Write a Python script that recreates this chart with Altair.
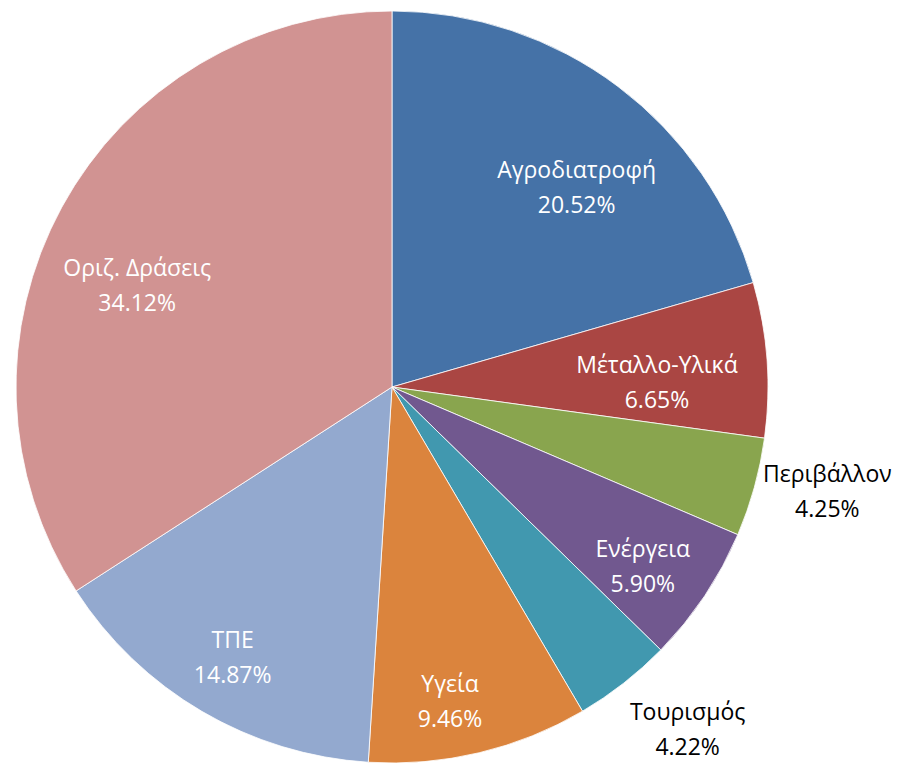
import math
import altair as alt
import pandas as pd

categories = ["Αγροδιατροφή", "Μέταλλο-Υλικά", "Περιβάλλον", "Ενέργεια",
              "Τουρισμός", "Υγεία", "ΤΠΕ", "Οριζ. Δράσεις"]
values = [20.52, 6.65, 4.25, 5.90, 4.22, 9.46, 14.87, 34.12]
colors = ["#4572A7", "#AA4643", "#89A54E", "#71588F",
          "#4198AF", "#DB843D", "#93A9CF", "#D19392"]

df = pd.DataFrame({"cat": categories, "value": values, "idx": list(range(len(categories)))})

FONT = "Open Sans"
CX, CY = 384, 379
LH = 35
base = alt.Chart(df).encode(
    theta=alt.Theta("value:Q", stack=True),
    order=alt.Order("idx:Q"),
    x=alt.value(CX),
    y=alt.value(CY),
)

pie = base.mark_arc(outerRadius=376, stroke="white", strokeWidth=0.8).encode(
    color=alt.Color("cat:N", scale=alt.Scale(domain=categories, range=colors), legend=None)
)

# label placement: (radius, theta shift in degrees, colour)
place = {
    "Αγροδιατροφή": (271, 6.0, "white"),
    "Μέταλλο-Υλικά": (265, 3.3, "white"),
    "Περιβάλλον": (448, -1.8, "black"),
    "Ενέργεια": (309, 2.0, "white"),
    "Τουρισμός": (453, -2.7, "black"),
    "Υγεία": (321, 3.0, "white"),
    "ΤΠΕ": (315, 0.0, "white"),
    "Οριζ. Δράσεις": (274, -7.0, "white"),
}

layers = [pie]
for c in categories:
    r, dth, col = place[c]
    t = base.transform_calculate(
        lab=f"datum.cat == '{c}' ? datum.cat + '\\n' + format(datum.value, '.2f') + '%' : ''"
    ).mark_text(
        radius=r, thetaOffset=math.radians(dth), lineBreak="\n", lineHeight=LH,
        dy=-LH / 2,
        font=FONT, fontSize=23, color=col, align="center", baseline="middle",
    ).encode(text="lab:N")
    layers.append(t)

chart = alt.layer(*layers).properties(
    width=897, height=755, padding=0,
    autosize=alt.AutoSizeParams(type="none"),
).configure_view(stroke=None)

chart.save("out.html", embed_options={"renderer": "svg", "actions": False})
